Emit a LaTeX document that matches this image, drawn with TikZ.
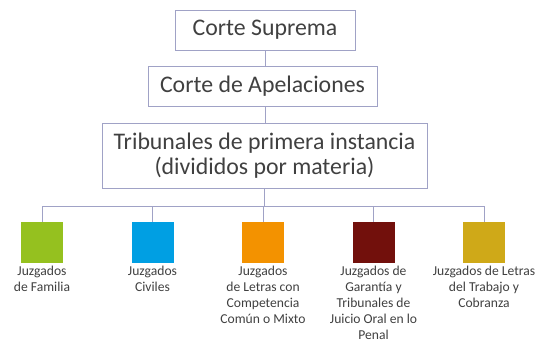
\documentclass[tikz,border=0pt]{standalone}
\usepackage{fontspec}
\setmainfont{Carlito}
\usetikzlibrary{positioning}
\definecolor{linegray}{RGB}{160,162,198}
\definecolor{textgray}{RGB}{64,64,64}
\definecolor{famgreen}{RGB}{149,193,31}
\definecolor{civblue}{RGB}{0,159,227}
\definecolor{letorange}{RGB}{243,146,0}
\definecolor{garred}{RGB}{114,16,12}
\definecolor{trabgold}{RGB}{207,169,24}
\begin{document}
\begin{tikzpicture}[
    x=1pt, y=1pt,
    court/.style={rectangle, draw=linegray, line width=0.8pt, text=textgray, align=center, minimum height=40pt, inner sep=0pt, font=\fontsize{23.8}{25.5}\selectfont},
    sq/.style={rectangle, minimum width=42pt, minimum height=41pt, inner sep=0pt},
    lbl/.style={text=textgray, align=center, inner sep=0pt, font=\fontsize{13.6}{16}\selectfont},
    line/.style={draw=linegray, line width=0.8pt}
]
    \useasboundingbox (0,0) rectangle (537,-342);

    \node[court, minimum width=180pt] (sup) at (265,-30) {Corte Suprema};
    \node[court, minimum width=229pt, below of=sup, node distance=56pt, xshift=-2.5pt] (ape) {Corte de Apelaciones};
    \node[court, minimum width=325pt, minimum height=65pt, below of=ape, node distance=69.5pt, xshift=2pt] (pri) {Tribunales de primera instancia\\(divididos por materia)};

    \node[sq, fill=famgreen] (fam) at (42,-242.5) {};
    \node[sq, fill=civblue, right of=fam, node distance=110.5pt] (civ) {};
    \node[sq, fill=letorange, right of=civ, node distance=110.5pt] (let) {};
    \node[sq, fill=garred, right of=let, node distance=110.5pt] (gar) {};
    \node[sq, fill=trabgold, right of=gar, node distance=110.5pt] (trab) {};

    \node[lbl, below=3pt of fam] (famlbl) {Juzgados\\de Familia};
    \node[lbl, below=3pt of civ] (civlbl) {Juzgados\\Civiles};
    \node[lbl, below=3pt of let] (letlbl) {Juzgados\\de Letras con\\Competencia\\Común o Mixto};
    \node[lbl, below=3pt of gar] (garlbl) {Juzgados de\\Garantía y\\Tribunales de\\Juicio Oral en lo\\Penal};
    \node[lbl, below=3pt of trab] (trablbl) {Juzgados de Letras\\del Trabajo y\\Cobranza};

    \draw[line] (sup) -- (sup |- ape.north);
    \draw[line] (ape.south -| sup) -- (pri.north -| sup);
    \foreach \n in {fam,civ,let,gar,trab}
        \draw[line] (pri.south) -- ++(0,-18) -| (\n.north);
\end{tikzpicture}
\end{document}
